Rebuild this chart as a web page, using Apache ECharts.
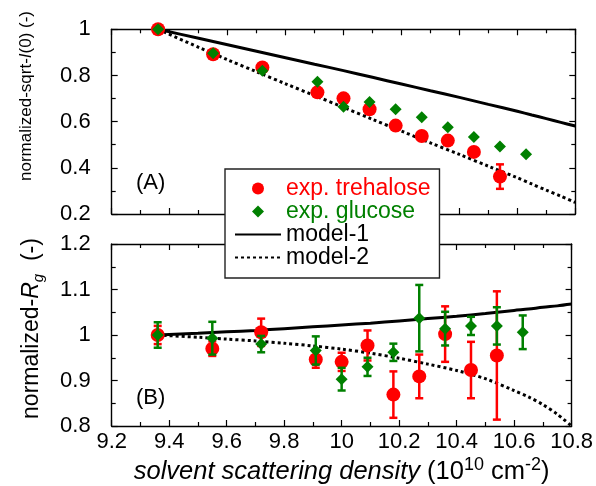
<!DOCTYPE html>
<html>
<head>
<meta charset="utf-8">
<script src="https://cdn.jsdelivr.net/npm/echarts@6/dist/echarts.min.js"></script>
<style>html,body{margin:0;padding:0;background:#fff;}#c{width:596px;height:486px;}</style>
</head>
<body>
<div id="c"></div>
<script>
// ---------- data ----------
const xTrehalose = [9.36, 9.55, 9.72, 9.91, 10.0, 10.09, 10.18, 10.27, 10.36, 10.45, 10.54];
const xGlucose   = [9.36, 9.55, 9.72, 9.91, 10.0, 10.09, 10.18, 10.27, 10.36, 10.45, 10.54, 10.63];

const sqrtI0Trehalose    = [1.0, 0.892, 0.835, 0.727, 0.701, 0.654, 0.583, 0.538, 0.518, 0.469, 0.362];
const sqrtI0TrehaloseErr = [0, 0, 0, 0, 0, 0, 0, 0, 0, 0, 0.053];
const sqrtI0Glucose      = [1.0, 0.896, 0.821, 0.773, 0.665, 0.685, 0.654, 0.619, 0.576, 0.534, 0.492, 0.459];

const rgTrehalose    = [1.0, 0.970, 1.006, 0.946, 0.941, 0.977, 0.869, 0.909, 1.002, 0.923, 0.955];
const rgTrehaloseErr = [0.02, 0.016, 0.03, 0.018, 0.02, 0.033, 0.051, 0.048, 0.061, 0.062, 0.141];
const rgGlucose      = [1.0, 0.993, 0.980, 0.966, 0.903, 0.930, 0.962, 1.037, 1.014, 1.020, 1.020, 1.006];
const rgGlucoseErr   = [0.028, 0.036, 0.018, 0.031, 0.025, 0.02, 0.019, 0.073, 0.037, 0.02, 0.041, 0.037];

const modelX        = [9.36, 9.5, 9.6, 9.7, 9.8, 9.9, 10.0, 10.1, 10.2, 10.3, 10.4, 10.5, 10.6, 10.65, 10.7, 10.75, 10.8];
const model1SqrtI0  = [1.0, 0.961, 0.933, 0.905, 0.877, 0.849, 0.821, 0.792, 0.763, 0.734, 0.705, 0.675, 0.645, 0.629, 0.613, 0.597, 0.581];
const model2SqrtI0  = [1.0, 0.922, 0.868, 0.816, 0.764, 0.713, 0.662, 0.610, 0.559, 0.508, 0.458, 0.407, 0.357, 0.330, 0.303, 0.277, 0.25];
const model1Rg      = [1.0, 1.004, 1.007, 1.010, 1.014, 1.018, 1.022, 1.026, 1.031, 1.036, 1.041, 1.047, 1.054, 1.057, 1.061, 1.064, 1.068];
const model2Rg      = [1.0, 0.995, 0.991, 0.987, 0.982, 0.976, 0.969, 0.960, 0.949, 0.936, 0.922, 0.904, 0.878, 0.864, 0.847, 0.826, 0.80];

const xTicks = {min: 9.2, max: 10.8, interval: 0.2};
const yTicksTop = {min: 0.2, max: 1.0, interval: 0.2};
const yTicksBottom = {min: 0.8, max: 1.2, interval: 0.1};

const legendNames = ['exp. trehalose', 'exp. glucose', 'model-1', 'model-2'];
const panelLabels = ['(A)', '(B)'];

// ---------- styling ----------
const FONT = 'Liberation Sans, Arial, Helvetica, sans-serif';
const RED = '#ff0000';
const GREEN = '#008000';
const DIAMOND = 'path://M0,-1L1,0L0,1L-1,0Z';

const pairs = (xs, ys) => xs.map((x, i) => [x, ys[i]]);
const triples = (xs, ys, es) => xs.map((x, i) => [x, ys[i], es[i]]);

function errRender(params, api) {
  const x = api.value(0), y = api.value(1), e = api.value(2);
  if (!(e > 0)) return null;
  const t = api.coord([x, y + e]);
  const b = api.coord([x, y - e]);
  const w = 4;
  const style = {stroke: api.visual('color'), lineWidth: 2.5};
  return {
    type: 'group',
    children: [
      {type: 'line', shape: {x1: t[0], y1: t[1], x2: b[0], y2: b[1]}, style: style},
      {type: 'line', shape: {x1: t[0] - w, y1: t[1], x2: t[0] + w, y2: t[1]}, style: style},
      {type: 'line', shape: {x1: b[0] - w, y1: b[1], x2: b[0] + w, y2: b[1]}, style: style}
    ]
  };
}

const axisLine = {show: true, onZero: false, lineStyle: {color: '#000', width: 1.4}};
const axisTick = {show: true, inside: true, length: 6, lineStyle: {color: '#000', width: 1.2}};
const minorTick = {show: true, splitNumber: 2, length: 4, lineStyle: {color: '#000', width: 1.2}};

function xAx(grid, pos, labels) {
  const a = Object.assign({type: 'value', gridIndex: grid, position: pos,
    axisLine: axisLine, axisTick: axisTick, minorTick: minorTick,
    splitLine: {show: false}, minorSplitLine: {show: false},
    axisLabel: {show: false}}, xTicks);
  if (labels) {
    a.axisLabel = {show: true, fontSize: 22, color: '#000', fontFamily: FONT, margin: 5};
    a.name = '{it|solvent scattering density }{n|(10}{sup|10}{n| cm}{sup|-2}{n|)}';
    a.nameLocation = 'middle';
    a.nameGap = 30;
    a.nameTextStyle = {
      color: '#000', fontFamily: FONT, fontSize: 25.5,
      rich: {
        it: {fontSize: 25.5, fontStyle: 'italic', fontFamily: FONT, color: '#000', lineHeight: 32, verticalAlign: 'middle'},
        n: {fontSize: 25.5, fontFamily: FONT, color: '#000', lineHeight: 32, verticalAlign: 'middle'},
        sup: {fontSize: 18, fontFamily: FONT, color: '#000', lineHeight: 32, verticalAlign: 'top'}
      }
    };
  }
  return a;
}

function yAx(grid, pos, ticks, labels) {
  const a = Object.assign({type: 'value', gridIndex: grid, position: pos,
    axisLine: axisLine, axisTick: axisTick,
    minorTick: minorTick,
    splitLine: {show: false}, minorSplitLine: {show: false},
    axisLabel: {show: false}}, ticks);
  if (labels) a.axisLabel = {show: true, fontSize: 22, color: '#000', fontFamily: FONT, margin: 21};
  return a;
}

const yTop = yAx(0, 'left', yTicksTop, true);

const yBot = yAx(1, 'left', yTicksBottom, true);
yBot.name = '{n|normalized-}{i|R}{sub|g}{n|  (-)}';
yBot.nameLocation = 'middle';
yBot.nameGap = 65;
yBot.nameTextStyle = {
  color: '#000', fontFamily: FONT, fontSize: 23, padding: [0, 0, 0, 13],
  rich: {
    n: {fontSize: 23, fontFamily: FONT, color: '#000', lineHeight: 30, verticalAlign: 'middle'},
    i: {fontSize: 23, fontStyle: 'italic', fontFamily: FONT, color: '#000', lineHeight: 30, verticalAlign: 'middle'},
    sub: {fontSize: 15, fontStyle: 'italic', fontFamily: FONT, color: '#000', lineHeight: 30, verticalAlign: 'bottom'}
  }
};

const option = {
  backgroundColor: '#fff',
  animation: false,
  textStyle: {fontFamily: FONT},
  title: [
    {text: panelLabels[0], left: 136, top: 172, textStyle: {fontSize: 22, fontWeight: 'normal', color: '#000', fontFamily: FONT}, padding: 0},
    {text: panelLabels[1], left: 136, top: 387, textStyle: {fontSize: 22, fontWeight: 'normal', color: '#000', fontFamily: FONT}, padding: 0}
  ],
  graphic: [
    {
      type: 'text', x: 26, y: 96, rotation: Math.PI / 2, z: 10,
      style: {
        text: '{n|normalized-sqrt-}{i|I}{n|(0) (-)}',
        align: 'center', verticalAlign: 'middle',
        fill: '#000',
        font: '17px ' + FONT,
        rich: {
          n: {fontSize: 17, fontFamily: FONT, fill: '#000', lineHeight: 20},
          i: {fontSize: 17, fontStyle: 'italic', fontFamily: FONT, fill: '#000', lineHeight: 20}
        }
      }
    }
  ],
  grid: [
    {left: 111.7, width: 463.6, top: 29.3, height: 184.7, containLabel: false},
    {left: 111.7, width: 463.6, top: 244, height: 185.3, containLabel: false}
  ],
  legend: {
    orient: 'vertical',
    left: 225, top: 169,
    padding: [8, 9, 9, 9],
    backgroundColor: '#fff',
    borderColor: '#222',
    borderWidth: 1.4,
    borderRadius: 0,
    itemWidth: 46,
    itemHeight: 12,
    itemGap: 0,
    z: 10,
    symbolKeepAspect: true,
    textStyle: {fontSize: 23, fontFamily: FONT, lineHeight: 21.3, color: '#000'},
    data: [
      {name: legendNames[0], icon: 'circle', textStyle: {color: RED}},
      {name: legendNames[1], icon: DIAMOND, textStyle: {color: GREEN}},
      {name: legendNames[2], textStyle: {color: '#000'}, itemStyle: {opacity: 0}},
      {name: legendNames[3], textStyle: {color: '#000'}, itemStyle: {opacity: 0}}
    ]
  },
  xAxis: [xAx(0, 'bottom', false), xAx(0, 'top', false), xAx(1, 'bottom', true), xAx(1, 'top', false)],
  yAxis: [yTop, yAx(0, 'right', yTicksTop, false), yBot, yAx(1, 'right', yTicksBottom, false)],
  series: [
    // top panel
    {name: legendNames[2], type: 'line', xAxisIndex: 0, yAxisIndex: 0, data: pairs(modelX, model1SqrtI0),
      symbol: 'none', smooth: 0.3, lineStyle: {color: '#000', width: 3}, itemStyle: {color: '#000'}, z: 1},
    {name: legendNames[3], type: 'line', xAxisIndex: 0, yAxisIndex: 0, data: pairs(modelX, model2SqrtI0),
      symbol: 'none', smooth: 0.3, lineStyle: {color: '#000', width: 3, type: [3, 3]}, itemStyle: {color: '#000'}, z: 1},
    {name: 'errT', type: 'custom', xAxisIndex: 0, yAxisIndex: 0, renderItem: errRender,
      data: triples(xTrehalose, sqrtI0Trehalose, sqrtI0TrehaloseErr), itemStyle: {color: RED}, z: 2},
    {name: legendNames[0], type: 'scatter', xAxisIndex: 0, yAxisIndex: 0, data: pairs(xTrehalose, sqrtI0Trehalose),
      symbol: 'circle', symbolSize: 14, itemStyle: {color: RED, opacity: 1}, z: 3},
    {name: legendNames[1], type: 'scatter', xAxisIndex: 0, yAxisIndex: 0, data: pairs(xGlucose, sqrtI0Glucose),
      symbol: 'diamond', symbolSize: 12, itemStyle: {color: GREEN, opacity: 1}, z: 5},
    // bottom panel
    {name: legendNames[2], type: 'line', xAxisIndex: 2, yAxisIndex: 2, data: pairs(modelX, model1Rg),
      symbol: 'none', smooth: 0.3, lineStyle: {color: '#000', width: 3}, itemStyle: {color: '#000'}, z: 1},
    {name: legendNames[3], type: 'line', xAxisIndex: 2, yAxisIndex: 2, data: pairs(modelX, model2Rg),
      symbol: 'none', smooth: 0.3, lineStyle: {color: '#000', width: 3, type: [3, 3]}, itemStyle: {color: '#000'}, z: 1},
    {name: 'errT2', type: 'custom', xAxisIndex: 2, yAxisIndex: 2, renderItem: errRender,
      data: triples(xTrehalose, rgTrehalose, rgTrehaloseErr), itemStyle: {color: RED}, z: 2},
    {name: legendNames[0], type: 'scatter', xAxisIndex: 2, yAxisIndex: 2, data: pairs(xTrehalose, rgTrehalose),
      symbol: 'circle', symbolSize: 14, itemStyle: {color: RED, opacity: 1}, z: 3},
    {name: 'errG2', type: 'custom', xAxisIndex: 2, yAxisIndex: 2, renderItem: errRender,
      data: triples(xGlucose, rgGlucose, rgGlucoseErr), itemStyle: {color: GREEN}, z: 4},
    {name: legendNames[1], type: 'scatter', xAxisIndex: 2, yAxisIndex: 2, data: pairs(xGlucose, rgGlucose),
      symbol: 'diamond', symbolSize: 12, itemStyle: {color: GREEN, opacity: 1}, z: 5}
  ]
};

const chart = echarts.init(document.getElementById('c'), null, {renderer: 'canvas'});
chart.setOption(option);
</script>
</body>
</html>
